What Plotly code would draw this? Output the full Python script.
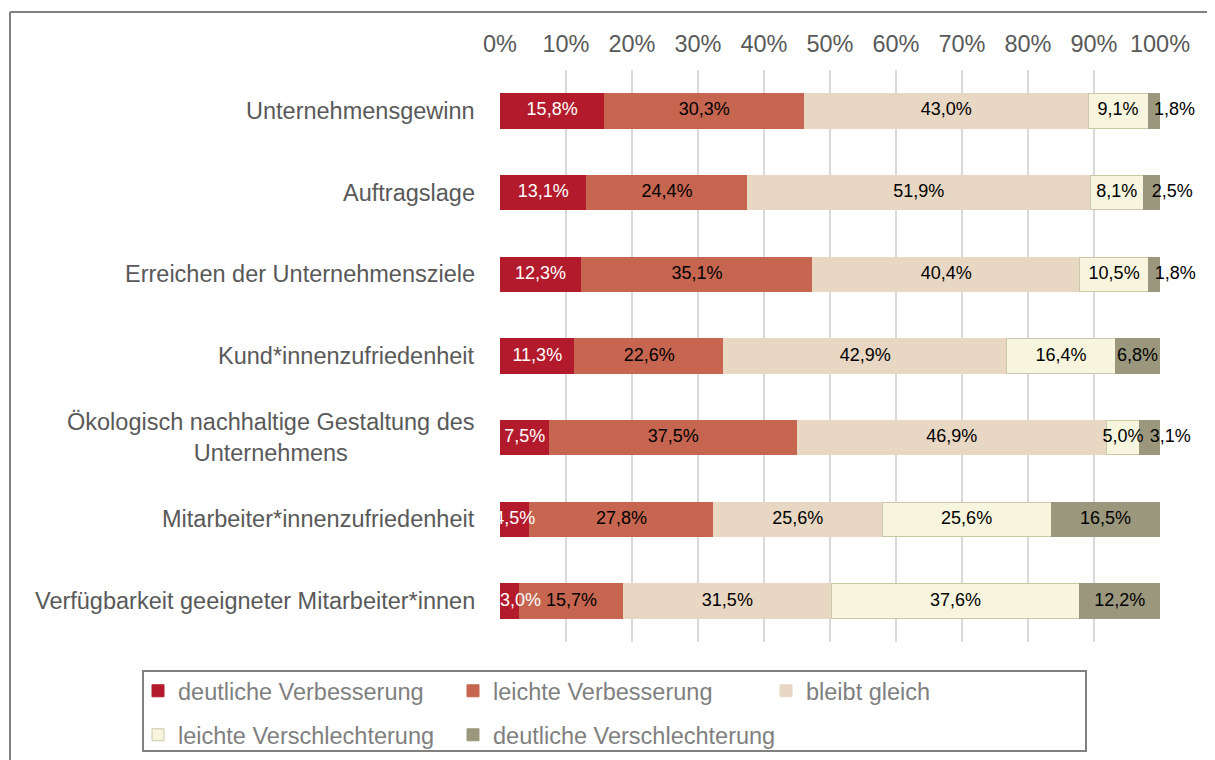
import plotly.graph_objects as go

categories = [
    "Unternehmensgewinn",
    "Auftragslage",
    "Erreichen der Unternehmensziele",
    "Kund*innenzufriedenheit",
    "Ökologisch nachhaltige Gestaltung des<br>Unternehmens",
    "Mitarbeiter*innenzufriedenheit",
    "Verfügbarkeit geeigneter Mitarbeiter*innen",
]
series_names = [
    "deutliche Verbesserung",
    "leichte Verbesserung",
    "bleibt gleich",
    "leichte Verschlechterung",
    "deutliche Verschlechterung",
]
deutliche_verbesserung = [15.8, 13.1, 12.3, 11.3, 7.5, 4.5, 3.0]
leichte_verbesserung = [30.3, 24.4, 35.1, 22.6, 37.5, 27.8, 15.7]
bleibt_gleich = [43.0, 51.9, 40.4, 42.9, 46.9, 25.6, 31.5]
leichte_verschlechterung = [9.1, 8.1, 10.5, 16.4, 5.0, 25.6, 37.6]
deutliche_verschlechterung = [1.8, 2.5, 1.8, 6.8, 3.1, 16.5, 12.2]
tick_values = [0, 10, 20, 30, 40, 50, 60, 70, 80, 90, 100]
tick_labels = [f"{v}%" for v in tick_values]

series_values = [deutliche_verbesserung, leichte_verbesserung, bleibt_gleich,
                 leichte_verschlechterung, deutliche_verschlechterung]
colors = ["#B31B2D", "#C66550", "#E8D7C3", "#F7F5DD", "#9B977D"]
line_colors = ["#B31B2D", "#C66550", "#E8D7C3", "#CBC8A8", "#9B977D"]
label_colors = ["#FFFFFF", "#000000", "#000000", "#000000", "#000000"]

FONT = "Liberation Sans, Arial, sans-serif"
W, H = 1207, 752
legend_ids = ["legend", "legend2", "legend3", "legend4", "legend5"]
# legend grid: three columns, two rows (left pixel of each entry, centre of each row)
legend_cols = [130, 445, 758]
legend_rows = [683, 727]

fig = go.Figure()

for i, (name, vals) in enumerate(zip(series_names, series_values)):
    fig.add_trace(go.Bar(
        name=name, y=categories, x=vals, orientation="h",
        marker=dict(color=colors[i], line=dict(color=line_colors[i], width=1)),
        legend=legend_ids[i],
        hoverinfo="skip",
    ))

# data labels at the segment centres (computed from the data)
cum = [0.0] * len(categories)
for i, vals in enumerate(series_values):
    xs, pos = [], []
    first = i == 0
    last = i == len(series_values) - 1
    for j, v in enumerate(vals):
        start = cum[j]
        centre = start + v / 2
        if v < 4 and last:
            xs.append(centre)
            pos.append("middle right")
        elif v < 4 and first:
            xs.append(start)
            pos.append("middle right")
        else:
            xs.append(centre)
            pos.append("middle center")
        cum[j] += v
    fig.add_trace(go.Scatter(
        x=xs, y=categories, mode="text",
        text=[f"{v:.1f}".replace(".", ",") + "%" for v in vals],
        textposition=pos,
        textfont=dict(family=FONT, size=18, color=label_colors[i]),
        showlegend=False, hoverinfo="skip", cliponaxis=False,
    ))

# category labels (centre aligned like the original)
for c in categories:
    fig.add_annotation(
        x=0, xref="paper", y=c, yref="y", text=c, showarrow=False,
        xanchor="right", yanchor="middle", xshift=-23, align="center",
        font=dict(family=FONT, size=23.5, color="#595959"),
    )

legends = {}
for i, lid in enumerate(legend_ids):
    legends[lid] = dict(
        orientation="h", xref="container", yref="container",
        x=legend_cols[i % 3] / W, xanchor="left",
        y=1 - legend_rows[i // 3] / H, yanchor="middle",
        borderwidth=0,
        font=dict(family=FONT, size=23.5, color="#7F7F7F"),
        bgcolor="rgba(0,0,0,0)",
    )

fig.update_layout(
    width=W, height=H,
    margin=dict(l=492, r=55, t=62, b=118),
    paper_bgcolor="white", plot_bgcolor="white",
    barmode="stack", bargap=0.58,
    font=dict(family=FONT, color="#595959"),
    xaxis=dict(
        side="top", range=[0, 100], tickvals=tick_values, ticktext=tick_labels,
        showgrid=True, gridcolor="#D9D9D9", gridwidth=2, zeroline=False,
        showline=False, ticks="", ticklabelstandoff=12,
        tickfont=dict(family=FONT, size=23.5, color="#595959"),
        fixedrange=True,
    ),
    yaxis=dict(
        categoryorder="array", categoryarray=categories, autorange="reversed",
        showticklabels=False, showgrid=False, zeroline=False, ticks="",
        fixedrange=True,
    ),
    **legends,
    shapes=[
        # legend frame
        dict(type="rect", xref="paper", yref="paper",
             x0=(143 - 500) / 660, x1=(1086 - 500) / 660,
             y0=(642 - 751) / 572, y1=(642 - 671) / 572,
             line=dict(color="#808080", width=2), fillcolor="rgba(0,0,0,0)"),
        # outer chart frame (left and top edges)
        dict(type="line", xref="paper", yref="paper",
             x0=(10 - 500) / 660, x1=(10 - 500) / 660,
             y0=(642 - 770) / 572, y1=(642 - 12) / 572,
             line=dict(color="#808080", width=2)),
        dict(type="line", xref="paper", yref="paper",
             x0=(10 - 500) / 660, x1=(1225 - 500) / 660,
             y0=(642 - 12) / 572, y1=(642 - 12) / 572,
             line=dict(color="#808080", width=2)),
    ],
)

fig.write_html("out.html")
